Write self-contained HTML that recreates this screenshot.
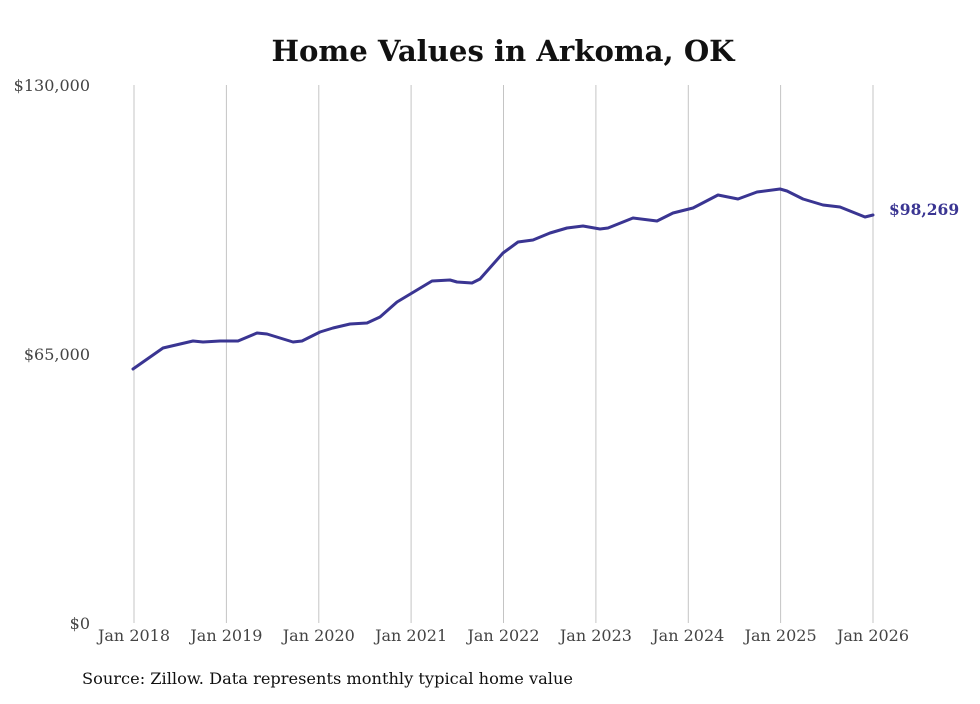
<!DOCTYPE html>
<html><head><meta charset="utf-8"><style>body{margin:0;background:#fff}</style></head><body>
<svg width="980" height="699" viewBox="0 0 980 699" xmlns="http://www.w3.org/2000/svg" font-family="DejaVu Serif, serif">
<text x="503" y="61" text-anchor="middle" font-size="29" font-weight="bold" fill="#111" textLength="463" lengthAdjust="spacingAndGlyphs">Home Values in Arkoma, OK</text>
<g stroke="#c4c4c4" stroke-width="1">
<line x1="134" y1="85" x2="134" y2="623"/><line x1="226.4" y1="85" x2="226.4" y2="623"/><line x1="318.8" y1="85" x2="318.8" y2="623"/><line x1="411.1" y1="85" x2="411.1" y2="623"/><line x1="503.5" y1="85" x2="503.5" y2="623"/><line x1="595.9" y1="85" x2="595.9" y2="623"/><line x1="688.3" y1="85" x2="688.3" y2="623"/><line x1="780.6" y1="85" x2="780.6" y2="623"/><line x1="873" y1="85" x2="873" y2="623"/>
</g>
<g font-size="16" fill="#444" text-anchor="end">
<text x="90" y="91">$130,000</text><text x="90" y="360">$65,000</text><text x="90" y="629">$0</text>
</g>
<g font-size="16" fill="#444" text-anchor="middle">
<text x="134" y="641">Jan 2018</text><text x="226.4" y="641">Jan 2019</text><text x="318.8" y="641">Jan 2020</text><text x="411.1" y="641">Jan 2021</text><text x="503.5" y="641">Jan 2022</text><text x="595.9" y="641">Jan 2023</text><text x="688.3" y="641">Jan 2024</text><text x="780.6" y="641">Jan 2025</text><text x="873" y="641">Jan 2026</text>
</g>
<polyline fill="none" stroke="#3a3592" stroke-width="3" stroke-linejoin="round" stroke-linecap="round" points="133,369 163,348 193,341 203,342 220,341 238,341 257,333 267,334 280,338 293,342 302,341 320,332 333,328 350,324 367,323 380,317 397,302 412,293 432,281 450,280 457,282 472,283 480,279 503,253 518,242 533,240 550,233 567,228 583,226 600,229 608,228 623,222 633,218 657,221 673,213 693,208 718,195 738,199 757,192 780,189 787,191 803,199 823,205 840,207 850,211 865,217 873,215"/>
<text x="889" y="215" font-size="15.5" font-weight="bold" fill="#3a3592">$98,269</text>
<text x="82" y="684" font-size="16" fill="#111" textLength="491" lengthAdjust="spacingAndGlyphs">Source: Zillow. Data represents monthly typical home value</text>
</svg>
</body></html>
